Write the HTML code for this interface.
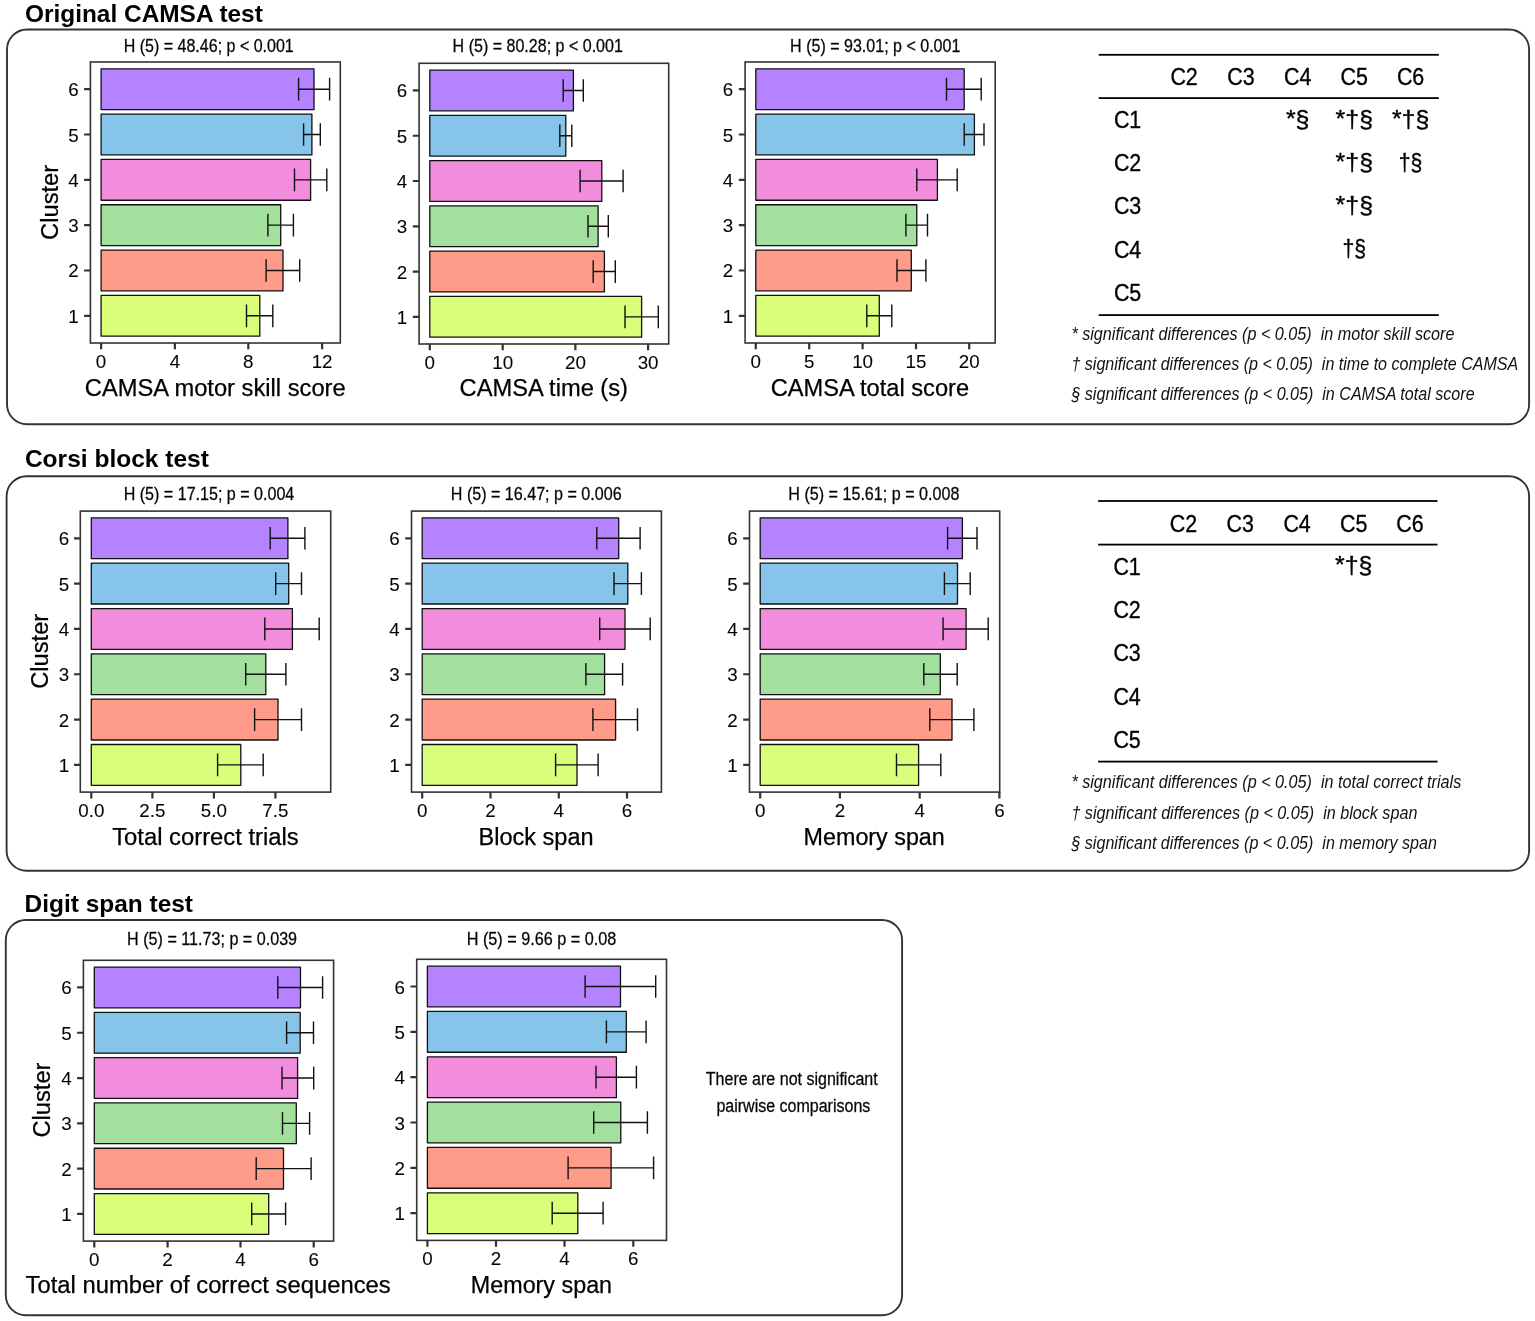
<!DOCTYPE html>
<html lang="en">
<head>
<meta charset="utf-8">
<title>Cluster comparisons: CAMSA, Corsi block and Digit span tests</title>
<style>
html,body{margin:0;padding:0;background:#fff;}
body{width:1535px;height:1321px;overflow:hidden;}
svg{display:block;}
text{font-family:"Liberation Sans",Arial,Helvetica,sans-serif;fill:#000;stroke-linejoin:round;}
text.h{stroke:#1a1a1a;stroke-width:0.3px;}
text.a{stroke:#4D4D4D;stroke-width:0.12px;}
text.x{stroke:#000;stroke-width:0.25px;}
text.b{font-weight:bold;}
text.i{font-style:italic;fill:#111;}
text.t{font-family:"Liberation Sans","DejaVu Sans",sans-serif;stroke:#000;stroke-width:0.35px;}
</style>
</head>
<body>
<svg width="1535" height="1321" viewBox="0 0 1535 1321">
<rect width="1535" height="1321" fill="#fff"/>
<text x="25" y="22.2" font-size="24.3" class="b" textLength="237.8" lengthAdjust="spacingAndGlyphs">Original CAMSA test</text>
<rect x="7" y="29.5" width="1522.1" height="394.7" rx="20" ry="20" fill="none" stroke="#333" stroke-width="1.9"/>
<g>
<rect x="101.1" y="295.41" width="158.7" height="40.79" fill="#D9FF7A" stroke="#111" stroke-width="1.3" stroke-linejoin="round"/>
<rect x="101.1" y="250.09" width="181.9" height="40.79" fill="#FF9B89" stroke="#111" stroke-width="1.3" stroke-linejoin="round"/>
<rect x="101.1" y="204.77" width="179.6" height="40.79" fill="#A3E09E" stroke="#111" stroke-width="1.3" stroke-linejoin="round"/>
<rect x="101.1" y="159.44" width="209.5" height="40.79" fill="#F28DDD" stroke="#111" stroke-width="1.3" stroke-linejoin="round"/>
<rect x="101.1" y="114.12" width="210.8" height="40.79" fill="#86C4E9" stroke="#111" stroke-width="1.3" stroke-linejoin="round"/>
<rect x="101.1" y="68.8" width="212.9" height="40.79" fill="#B583FF" stroke="#111" stroke-width="1.3" stroke-linejoin="round"/>
<path d="M246.5 304.48V327.14M272.8 304.48V327.14M246.5 315.81H272.8" fill="none" stroke="#111" stroke-width="1.4"/>
<path d="M266.1 259.15V281.81M299.7 259.15V281.81M266.1 270.48H299.7" fill="none" stroke="#111" stroke-width="1.4"/>
<path d="M267.9 213.83V236.49M293.4 213.83V236.49M267.9 225.16H293.4" fill="none" stroke="#111" stroke-width="1.4"/>
<path d="M294.5 168.51V191.17M326.8 168.51V191.17M294.5 179.84H326.8" fill="none" stroke="#111" stroke-width="1.4"/>
<path d="M303.6 123.19V145.85M320.3 123.19V145.85M303.6 134.52H320.3" fill="none" stroke="#111" stroke-width="1.4"/>
<path d="M298.6 77.86V100.52M329.6 77.86V100.52M298.6 89.19H329.6" fill="none" stroke="#111" stroke-width="1.4"/>
<rect x="90.4" y="62" width="249.9" height="281" fill="none" stroke="#333333" stroke-width="1.6"/>
<path d="M84.1 315.81H90.4M84.1 270.48H90.4M84.1 225.16H90.4M84.1 179.84H90.4M84.1 134.52H90.4M84.1 89.19H90.4M101.1 343V349.3M174.9 343V349.3M248.3 343V349.3M322.1 343V349.3" fill="none" stroke="#333333" stroke-width="2.2"/>
<text x="78.6" y="322.81" font-size="18.8" class="a" text-anchor="end" fill="#4D4D4D">1</text>
<text x="78.6" y="277.48" font-size="18.8" class="a" text-anchor="end" fill="#4D4D4D">2</text>
<text x="78.6" y="232.16" font-size="18.8" class="a" text-anchor="end" fill="#4D4D4D">3</text>
<text x="78.6" y="186.84" font-size="18.8" class="a" text-anchor="end" fill="#4D4D4D">4</text>
<text x="78.6" y="141.52" font-size="18.8" class="a" text-anchor="end" fill="#4D4D4D">5</text>
<text x="78.6" y="96.19" font-size="18.8" class="a" text-anchor="end" fill="#4D4D4D">6</text>
<text x="101.1" y="367.7" font-size="18.8" class="a" text-anchor="middle" fill="#4D4D4D">0</text>
<text x="174.9" y="367.7" font-size="18.8" class="a" text-anchor="middle" fill="#4D4D4D">4</text>
<text x="248.3" y="367.7" font-size="18.8" class="a" text-anchor="middle" fill="#4D4D4D">8</text>
<text x="322.1" y="367.7" font-size="18.8" class="a" text-anchor="middle" fill="#4D4D4D">12</text>
<text x="84.8" y="395.7" font-size="23.5" class="x" textLength="260.9" lengthAdjust="spacingAndGlyphs">CAMSA motor skill score</text>
<text x="123.7" y="52.2" font-size="18" class="h" textLength="170.1" lengthAdjust="spacingAndGlyphs" fill="#1a1a1a">H (5) = 48.46; p &lt; 0.001</text>
<text class="x" transform="translate(57.5 202.4) rotate(-90)" x="0" y="0" font-size="23.5" text-anchor="middle" textLength="75" lengthAdjust="spacingAndGlyphs">Cluster</text>
</g>
<g>
<rect x="429.8" y="296.46" width="211.8" height="40.75" fill="#D9FF7A" stroke="#111" stroke-width="1.3" stroke-linejoin="round"/>
<rect x="429.8" y="251.19" width="174.6" height="40.75" fill="#FF9B89" stroke="#111" stroke-width="1.3" stroke-linejoin="round"/>
<rect x="429.8" y="205.91" width="168.3" height="40.75" fill="#A3E09E" stroke="#111" stroke-width="1.3" stroke-linejoin="round"/>
<rect x="429.8" y="160.64" width="172" height="40.75" fill="#F28DDD" stroke="#111" stroke-width="1.3" stroke-linejoin="round"/>
<rect x="429.8" y="115.37" width="136" height="40.75" fill="#86C4E9" stroke="#111" stroke-width="1.3" stroke-linejoin="round"/>
<rect x="429.8" y="70.09" width="143.6" height="40.75" fill="#B583FF" stroke="#111" stroke-width="1.3" stroke-linejoin="round"/>
<path d="M625 305.52V328.15M658.3 305.52V328.15M625 316.84H658.3" fill="none" stroke="#111" stroke-width="1.4"/>
<path d="M593.2 260.24V282.88M615.3 260.24V282.88M593.2 271.56H615.3" fill="none" stroke="#111" stroke-width="1.4"/>
<path d="M588 214.97V237.61M608.3 214.97V237.61M588 226.29H608.3" fill="none" stroke="#111" stroke-width="1.4"/>
<path d="M580.1 169.69V192.33M623.1 169.69V192.33M580.1 181.01H623.1" fill="none" stroke="#111" stroke-width="1.4"/>
<path d="M559.8 124.42V147.06M571.8 124.42V147.06M559.8 135.74H571.8" fill="none" stroke="#111" stroke-width="1.4"/>
<path d="M563.2 79.15V101.78M583.3 79.15V101.78M563.2 90.46H583.3" fill="none" stroke="#111" stroke-width="1.4"/>
<rect x="419.1" y="63.3" width="249.6" height="280.7" fill="none" stroke="#333333" stroke-width="1.6"/>
<path d="M412.8 316.84H419.1M412.8 271.56H419.1M412.8 226.29H419.1M412.8 181.01H419.1M412.8 135.74H419.1M412.8 90.46H419.1M429.8 344V350.3M502.7 344V350.3M575.4 344V350.3M648.1 344V350.3" fill="none" stroke="#333333" stroke-width="2.2"/>
<text x="407.3" y="323.84" font-size="18.8" class="a" text-anchor="end" fill="#4D4D4D">1</text>
<text x="407.3" y="278.56" font-size="18.8" class="a" text-anchor="end" fill="#4D4D4D">2</text>
<text x="407.3" y="233.29" font-size="18.8" class="a" text-anchor="end" fill="#4D4D4D">3</text>
<text x="407.3" y="188.01" font-size="18.8" class="a" text-anchor="end" fill="#4D4D4D">4</text>
<text x="407.3" y="142.74" font-size="18.8" class="a" text-anchor="end" fill="#4D4D4D">5</text>
<text x="407.3" y="97.46" font-size="18.8" class="a" text-anchor="end" fill="#4D4D4D">6</text>
<text x="429.8" y="368.7" font-size="18.8" class="a" text-anchor="middle" fill="#4D4D4D">0</text>
<text x="502.7" y="368.7" font-size="18.8" class="a" text-anchor="middle" fill="#4D4D4D">10</text>
<text x="575.4" y="368.7" font-size="18.8" class="a" text-anchor="middle" fill="#4D4D4D">20</text>
<text x="648.1" y="368.7" font-size="18.8" class="a" text-anchor="middle" fill="#4D4D4D">30</text>
<text x="459.6" y="396.4" font-size="23.5" class="x" textLength="168.4" lengthAdjust="spacingAndGlyphs">CAMSA time (s)</text>
<text x="452.6" y="52.2" font-size="18" class="h" textLength="170.3" lengthAdjust="spacingAndGlyphs" fill="#1a1a1a">H (5) = 80.28; p &lt; 0.001</text>
</g>
<g>
<rect x="755.8" y="295.41" width="123.5" height="40.79" fill="#D9FF7A" stroke="#111" stroke-width="1.3" stroke-linejoin="round"/>
<rect x="755.8" y="250.09" width="155.5" height="40.79" fill="#FF9B89" stroke="#111" stroke-width="1.3" stroke-linejoin="round"/>
<rect x="755.8" y="204.77" width="161" height="40.79" fill="#A3E09E" stroke="#111" stroke-width="1.3" stroke-linejoin="round"/>
<rect x="755.8" y="159.44" width="181.6" height="40.79" fill="#F28DDD" stroke="#111" stroke-width="1.3" stroke-linejoin="round"/>
<rect x="755.8" y="114.12" width="218.6" height="40.79" fill="#86C4E9" stroke="#111" stroke-width="1.3" stroke-linejoin="round"/>
<rect x="755.8" y="68.8" width="208.4" height="40.79" fill="#B583FF" stroke="#111" stroke-width="1.3" stroke-linejoin="round"/>
<path d="M866.8 304.48V327.14M891.8 304.48V327.14M866.8 315.81H891.8" fill="none" stroke="#111" stroke-width="1.4"/>
<path d="M897 259.15V281.81M925.9 259.15V281.81M897 270.48H925.9" fill="none" stroke="#111" stroke-width="1.4"/>
<path d="M905.9 213.83V236.49M927.5 213.83V236.49M905.9 225.16H927.5" fill="none" stroke="#111" stroke-width="1.4"/>
<path d="M916.8 168.51V191.17M957.2 168.51V191.17M916.8 179.84H957.2" fill="none" stroke="#111" stroke-width="1.4"/>
<path d="M964.2 123.19V145.85M984 123.19V145.85M964.2 134.52H984" fill="none" stroke="#111" stroke-width="1.4"/>
<path d="M946.5 77.86V100.52M981.2 77.86V100.52M946.5 89.19H981.2" fill="none" stroke="#111" stroke-width="1.4"/>
<rect x="745.1" y="62" width="250.1" height="281" fill="none" stroke="#333333" stroke-width="1.6"/>
<path d="M738.8 315.81H745.1M738.8 270.48H745.1M738.8 225.16H745.1M738.8 179.84H745.1M738.8 134.52H745.1M738.8 89.19H745.1M755.8 343V349.3M809.2 343V349.3M862.6 343V349.3M916 343V349.3M969.2 343V349.3" fill="none" stroke="#333333" stroke-width="2.2"/>
<text x="733.3" y="322.81" font-size="18.8" class="a" text-anchor="end" fill="#4D4D4D">1</text>
<text x="733.3" y="277.48" font-size="18.8" class="a" text-anchor="end" fill="#4D4D4D">2</text>
<text x="733.3" y="232.16" font-size="18.8" class="a" text-anchor="end" fill="#4D4D4D">3</text>
<text x="733.3" y="186.84" font-size="18.8" class="a" text-anchor="end" fill="#4D4D4D">4</text>
<text x="733.3" y="141.52" font-size="18.8" class="a" text-anchor="end" fill="#4D4D4D">5</text>
<text x="733.3" y="96.19" font-size="18.8" class="a" text-anchor="end" fill="#4D4D4D">6</text>
<text x="755.8" y="367.7" font-size="18.8" class="a" text-anchor="middle" fill="#4D4D4D">0</text>
<text x="809.2" y="367.7" font-size="18.8" class="a" text-anchor="middle" fill="#4D4D4D">5</text>
<text x="862.6" y="367.7" font-size="18.8" class="a" text-anchor="middle" fill="#4D4D4D">10</text>
<text x="916" y="367.7" font-size="18.8" class="a" text-anchor="middle" fill="#4D4D4D">15</text>
<text x="969.2" y="367.7" font-size="18.8" class="a" text-anchor="middle" fill="#4D4D4D">20</text>
<text x="770.7" y="395.7" font-size="23.5" class="x" textLength="198.4" lengthAdjust="spacingAndGlyphs">CAMSA total score</text>
<text x="790.1" y="52.2" font-size="18" class="h" textLength="170.3" lengthAdjust="spacingAndGlyphs" fill="#1a1a1a">H (5) = 93.01; p &lt; 0.001</text>
</g>
<rect x="1098.7" y="53.9" width="340.1" height="1.8" fill="#000"/>
<rect x="1098.7" y="97.2" width="340.1" height="1.8" fill="#000"/>
<rect x="1098.7" y="314.2" width="340.1" height="1.8" fill="#000"/>
<text x="1170.4" y="85.1" font-size="24" class="t" textLength="27.4" lengthAdjust="spacingAndGlyphs">C2</text>
<text x="1227.2" y="85.1" font-size="24" class="t" textLength="27.4" lengthAdjust="spacingAndGlyphs">C3</text>
<text x="1284" y="85.1" font-size="24" class="t" textLength="27.4" lengthAdjust="spacingAndGlyphs">C4</text>
<text x="1340.6" y="85.1" font-size="24" class="t" textLength="27.4" lengthAdjust="spacingAndGlyphs">C5</text>
<text x="1396.9" y="85.1" font-size="24" class="t" textLength="27.4" lengthAdjust="spacingAndGlyphs">C6</text>
<text x="1113.9" y="128.1" font-size="24" class="t" textLength="27.4" lengthAdjust="spacingAndGlyphs">C1</text>
<text x="1113.9" y="171.4" font-size="24" class="t" textLength="27.4" lengthAdjust="spacingAndGlyphs">C2</text>
<text x="1113.9" y="214.4" font-size="24" class="t" textLength="27.4" lengthAdjust="spacingAndGlyphs">C3</text>
<text x="1113.9" y="257.8" font-size="24" class="t" textLength="27.4" lengthAdjust="spacingAndGlyphs">C4</text>
<text x="1113.9" y="301.4" font-size="24" class="t" textLength="27.4" lengthAdjust="spacingAndGlyphs">C5</text>
<text x="1285.9" y="126.5" font-size="24" class="t" textLength="23.6" lengthAdjust="spacingAndGlyphs">*§</text>
<text x="1335.6" y="126.5" font-size="24" class="t" textLength="37.4" lengthAdjust="spacingAndGlyphs">*†§</text>
<text x="1391.9" y="126.5" font-size="24" class="t" textLength="37.4" lengthAdjust="spacingAndGlyphs">*†§</text>
<text x="1335.6" y="169.8" font-size="24" class="t" textLength="37.4" lengthAdjust="spacingAndGlyphs">*†§</text>
<text x="1398.8" y="169.8" font-size="24" class="t" textLength="23.6" lengthAdjust="spacingAndGlyphs">†§</text>
<text x="1335.6" y="212.8" font-size="24" class="t" textLength="37.4" lengthAdjust="spacingAndGlyphs">*†§</text>
<text x="1342.5" y="256.2" font-size="24" class="t" textLength="23.6" lengthAdjust="spacingAndGlyphs">†§</text>
<text x="1071.4" y="340.1" font-size="17.5" class="i" textLength="383.1" lengthAdjust="spacingAndGlyphs" style="white-space:pre">* significant differences (p &lt; 0.05)  in motor skill score</text>
<text x="1071.4" y="370.1" font-size="17.5" class="i" textLength="446.9" lengthAdjust="spacingAndGlyphs" style="white-space:pre">† significant differences (p &lt; 0.05)  in time to complete CAMSA</text>
<text x="1071.4" y="400.1" font-size="17.5" class="i" textLength="403.2" lengthAdjust="spacingAndGlyphs" style="white-space:pre">§ significant differences (p &lt; 0.05)  in CAMSA total score</text>
<text x="24.9" y="466.9" font-size="24.3" class="b" textLength="184" lengthAdjust="spacingAndGlyphs">Corsi block test</text>
<rect x="6.6" y="476.2" width="1522.5" height="394.5" rx="20" ry="20" fill="none" stroke="#333" stroke-width="1.9"/>
<g>
<rect x="91.3" y="744.51" width="149.5" height="40.79" fill="#D9FF7A" stroke="#111" stroke-width="1.3" stroke-linejoin="round"/>
<rect x="91.3" y="699.19" width="186.7" height="40.79" fill="#FF9B89" stroke="#111" stroke-width="1.3" stroke-linejoin="round"/>
<rect x="91.3" y="653.87" width="174.5" height="40.79" fill="#A3E09E" stroke="#111" stroke-width="1.3" stroke-linejoin="round"/>
<rect x="91.3" y="608.54" width="201.1" height="40.79" fill="#F28DDD" stroke="#111" stroke-width="1.3" stroke-linejoin="round"/>
<rect x="91.3" y="563.22" width="197.4" height="40.79" fill="#86C4E9" stroke="#111" stroke-width="1.3" stroke-linejoin="round"/>
<rect x="91.3" y="517.9" width="196.6" height="40.79" fill="#B583FF" stroke="#111" stroke-width="1.3" stroke-linejoin="round"/>
<path d="M217.6 753.58V776.24M263.2 753.58V776.24M217.6 764.91H263.2" fill="none" stroke="#111" stroke-width="1.4"/>
<path d="M254.6 708.25V730.91M301.5 708.25V730.91M254.6 719.58H301.5" fill="none" stroke="#111" stroke-width="1.4"/>
<path d="M245.7 662.93V685.59M285.9 662.93V685.59M245.7 674.26H285.9" fill="none" stroke="#111" stroke-width="1.4"/>
<path d="M264.8 617.61V640.27M319.2 617.61V640.27M264.8 628.94H319.2" fill="none" stroke="#111" stroke-width="1.4"/>
<path d="M275.7 572.29V594.95M301.5 572.29V594.95M275.7 583.62H301.5" fill="none" stroke="#111" stroke-width="1.4"/>
<path d="M270.2 526.96V549.62M304.9 526.96V549.62M270.2 538.29H304.9" fill="none" stroke="#111" stroke-width="1.4"/>
<rect x="80.3" y="511.1" width="250.4" height="281" fill="none" stroke="#333333" stroke-width="1.6"/>
<path d="M74 764.91H80.3M74 719.58H80.3M74 674.26H80.3M74 628.94H80.3M74 583.62H80.3M74 538.29H80.3M91.3 792.1V798.4M152.4 792.1V798.4M213.9 792.1V798.4M275.4 792.1V798.4" fill="none" stroke="#333333" stroke-width="2.2"/>
<text x="69.2" y="771.91" font-size="18.8" class="a" text-anchor="end" fill="#4D4D4D">1</text>
<text x="69.2" y="726.58" font-size="18.8" class="a" text-anchor="end" fill="#4D4D4D">2</text>
<text x="69.2" y="681.26" font-size="18.8" class="a" text-anchor="end" fill="#4D4D4D">3</text>
<text x="69.2" y="635.94" font-size="18.8" class="a" text-anchor="end" fill="#4D4D4D">4</text>
<text x="69.2" y="590.62" font-size="18.8" class="a" text-anchor="end" fill="#4D4D4D">5</text>
<text x="69.2" y="545.29" font-size="18.8" class="a" text-anchor="end" fill="#4D4D4D">6</text>
<text x="91.3" y="816.8" font-size="18.8" class="a" text-anchor="middle" fill="#4D4D4D">0.0</text>
<text x="152.4" y="816.8" font-size="18.8" class="a" text-anchor="middle" fill="#4D4D4D">2.5</text>
<text x="213.9" y="816.8" font-size="18.8" class="a" text-anchor="middle" fill="#4D4D4D">5.0</text>
<text x="275.4" y="816.8" font-size="18.8" class="a" text-anchor="middle" fill="#4D4D4D">7.5</text>
<text x="112.2" y="844.8" font-size="23.5" class="x" textLength="186.6" lengthAdjust="spacingAndGlyphs">Total correct trials</text>
<text x="123.7" y="499.6" font-size="18" class="h" textLength="170.6" lengthAdjust="spacingAndGlyphs" fill="#1a1a1a">H (5) = 17.15; p = 0.004</text>
<text class="x" transform="translate(48.3 651.3) rotate(-90)" x="0" y="0" font-size="23.5" text-anchor="middle" textLength="75" lengthAdjust="spacingAndGlyphs">Cluster</text>
</g>
<g>
<rect x="422.2" y="744.51" width="154.8" height="40.79" fill="#D9FF7A" stroke="#111" stroke-width="1.3" stroke-linejoin="round"/>
<rect x="422.2" y="699.19" width="193.4" height="40.79" fill="#FF9B89" stroke="#111" stroke-width="1.3" stroke-linejoin="round"/>
<rect x="422.2" y="653.87" width="182.4" height="40.79" fill="#A3E09E" stroke="#111" stroke-width="1.3" stroke-linejoin="round"/>
<rect x="422.2" y="608.54" width="202.8" height="40.79" fill="#F28DDD" stroke="#111" stroke-width="1.3" stroke-linejoin="round"/>
<rect x="422.2" y="563.22" width="205.6" height="40.79" fill="#86C4E9" stroke="#111" stroke-width="1.3" stroke-linejoin="round"/>
<rect x="422.2" y="517.9" width="196.5" height="40.79" fill="#B583FF" stroke="#111" stroke-width="1.3" stroke-linejoin="round"/>
<path d="M555.6 753.58V776.24M598.1 753.58V776.24M555.6 764.91H598.1" fill="none" stroke="#111" stroke-width="1.4"/>
<path d="M592.9 708.25V730.91M637.5 708.25V730.91M592.9 719.58H637.5" fill="none" stroke="#111" stroke-width="1.4"/>
<path d="M585.9 662.93V685.59M622.6 662.93V685.59M585.9 674.26H622.6" fill="none" stroke="#111" stroke-width="1.4"/>
<path d="M599.7 617.61V640.27M650.2 617.61V640.27M599.7 628.94H650.2" fill="none" stroke="#111" stroke-width="1.4"/>
<path d="M614 572.29V594.95M641.4 572.29V594.95M614 583.62H641.4" fill="none" stroke="#111" stroke-width="1.4"/>
<path d="M596.8 526.96V549.62M640.1 526.96V549.62M596.8 538.29H640.1" fill="none" stroke="#111" stroke-width="1.4"/>
<rect x="411.5" y="511.1" width="249.9" height="281" fill="none" stroke="#333333" stroke-width="1.6"/>
<path d="M405.2 764.91H411.5M405.2 719.58H411.5M405.2 674.26H411.5M405.2 628.94H411.5M405.2 583.62H411.5M405.2 538.29H411.5M422.2 792.1V798.4M490.5 792.1V798.4M558.8 792.1V798.4M627 792.1V798.4" fill="none" stroke="#333333" stroke-width="2.2"/>
<text x="399.7" y="771.91" font-size="18.8" class="a" text-anchor="end" fill="#4D4D4D">1</text>
<text x="399.7" y="726.58" font-size="18.8" class="a" text-anchor="end" fill="#4D4D4D">2</text>
<text x="399.7" y="681.26" font-size="18.8" class="a" text-anchor="end" fill="#4D4D4D">3</text>
<text x="399.7" y="635.94" font-size="18.8" class="a" text-anchor="end" fill="#4D4D4D">4</text>
<text x="399.7" y="590.62" font-size="18.8" class="a" text-anchor="end" fill="#4D4D4D">5</text>
<text x="399.7" y="545.29" font-size="18.8" class="a" text-anchor="end" fill="#4D4D4D">6</text>
<text x="422.2" y="816.8" font-size="18.8" class="a" text-anchor="middle" fill="#4D4D4D">0</text>
<text x="490.5" y="816.8" font-size="18.8" class="a" text-anchor="middle" fill="#4D4D4D">2</text>
<text x="558.8" y="816.8" font-size="18.8" class="a" text-anchor="middle" fill="#4D4D4D">4</text>
<text x="627" y="816.8" font-size="18.8" class="a" text-anchor="middle" fill="#4D4D4D">6</text>
<text x="478.6" y="844.8" font-size="23.5" class="x" textLength="115" lengthAdjust="spacingAndGlyphs">Block span</text>
<text x="450.8" y="499.6" font-size="18" class="h" textLength="170.8" lengthAdjust="spacingAndGlyphs" fill="#1a1a1a">H (5) = 16.47; p = 0.006</text>
</g>
<g>
<rect x="760.2" y="744.51" width="158.4" height="40.79" fill="#D9FF7A" stroke="#111" stroke-width="1.3" stroke-linejoin="round"/>
<rect x="760.2" y="699.19" width="191.8" height="40.79" fill="#FF9B89" stroke="#111" stroke-width="1.3" stroke-linejoin="round"/>
<rect x="760.2" y="653.87" width="180.1" height="40.79" fill="#A3E09E" stroke="#111" stroke-width="1.3" stroke-linejoin="round"/>
<rect x="760.2" y="608.54" width="205.9" height="40.79" fill="#F28DDD" stroke="#111" stroke-width="1.3" stroke-linejoin="round"/>
<rect x="760.2" y="563.22" width="197.3" height="40.79" fill="#86C4E9" stroke="#111" stroke-width="1.3" stroke-linejoin="round"/>
<rect x="760.2" y="517.9" width="202.2" height="40.79" fill="#B583FF" stroke="#111" stroke-width="1.3" stroke-linejoin="round"/>
<path d="M896.5 753.58V776.24M940.8 753.58V776.24M896.5 764.91H940.8" fill="none" stroke="#111" stroke-width="1.4"/>
<path d="M929.8 708.25V730.91M973.9 708.25V730.91M929.8 719.58H973.9" fill="none" stroke="#111" stroke-width="1.4"/>
<path d="M923.8 662.93V685.59M957.2 662.93V685.59M923.8 674.26H957.2" fill="none" stroke="#111" stroke-width="1.4"/>
<path d="M943.1 617.61V640.27M988.2 617.61V640.27M943.1 628.94H988.2" fill="none" stroke="#111" stroke-width="1.4"/>
<path d="M944.4 572.29V594.95M970.2 572.29V594.95M944.4 583.62H970.2" fill="none" stroke="#111" stroke-width="1.4"/>
<path d="M947.6 526.96V549.62M977 526.96V549.62M947.6 538.29H977" fill="none" stroke="#111" stroke-width="1.4"/>
<rect x="749.5" y="511.1" width="250.2" height="281" fill="none" stroke="#333333" stroke-width="1.6"/>
<path d="M743.2 764.91H749.5M743.2 719.58H749.5M743.2 674.26H749.5M743.2 628.94H749.5M743.2 583.62H749.5M743.2 538.29H749.5M760.2 792.1V798.4M839.9 792.1V798.4M919.7 792.1V798.4M999.4 792.1V798.4" fill="none" stroke="#333333" stroke-width="2.2"/>
<text x="737.7" y="771.91" font-size="18.8" class="a" text-anchor="end" fill="#4D4D4D">1</text>
<text x="737.7" y="726.58" font-size="18.8" class="a" text-anchor="end" fill="#4D4D4D">2</text>
<text x="737.7" y="681.26" font-size="18.8" class="a" text-anchor="end" fill="#4D4D4D">3</text>
<text x="737.7" y="635.94" font-size="18.8" class="a" text-anchor="end" fill="#4D4D4D">4</text>
<text x="737.7" y="590.62" font-size="18.8" class="a" text-anchor="end" fill="#4D4D4D">5</text>
<text x="737.7" y="545.29" font-size="18.8" class="a" text-anchor="end" fill="#4D4D4D">6</text>
<text x="760.2" y="816.8" font-size="18.8" class="a" text-anchor="middle" fill="#4D4D4D">0</text>
<text x="839.9" y="816.8" font-size="18.8" class="a" text-anchor="middle" fill="#4D4D4D">2</text>
<text x="919.7" y="816.8" font-size="18.8" class="a" text-anchor="middle" fill="#4D4D4D">4</text>
<text x="999.4" y="816.8" font-size="18.8" class="a" text-anchor="middle" fill="#4D4D4D">6</text>
<text x="803.6" y="844.8" font-size="23.5" class="x" textLength="141.2" lengthAdjust="spacingAndGlyphs">Memory span</text>
<text x="788.3" y="499.6" font-size="18" class="h" textLength="171.1" lengthAdjust="spacingAndGlyphs" fill="#1a1a1a">H (5) = 15.61; p = 0.008</text>
</g>
<rect x="1098.1" y="500.1" width="339.4" height="1.8" fill="#000"/>
<rect x="1098.1" y="543.7" width="339.4" height="1.8" fill="#000"/>
<rect x="1098.1" y="760.7" width="339.4" height="1.8" fill="#000"/>
<text x="1169.8" y="531.6" font-size="24" class="t" textLength="27.4" lengthAdjust="spacingAndGlyphs">C2</text>
<text x="1226.6" y="531.6" font-size="24" class="t" textLength="27.4" lengthAdjust="spacingAndGlyphs">C3</text>
<text x="1283.4" y="531.6" font-size="24" class="t" textLength="27.4" lengthAdjust="spacingAndGlyphs">C4</text>
<text x="1340" y="531.6" font-size="24" class="t" textLength="27.4" lengthAdjust="spacingAndGlyphs">C5</text>
<text x="1396.3" y="531.6" font-size="24" class="t" textLength="27.4" lengthAdjust="spacingAndGlyphs">C6</text>
<text x="1113.4" y="574.6" font-size="24" class="t" textLength="27.4" lengthAdjust="spacingAndGlyphs">C1</text>
<text x="1113.4" y="617.9" font-size="24" class="t" textLength="27.4" lengthAdjust="spacingAndGlyphs">C2</text>
<text x="1113.4" y="661.3" font-size="24" class="t" textLength="27.4" lengthAdjust="spacingAndGlyphs">C3</text>
<text x="1113.4" y="704.9" font-size="24" class="t" textLength="27.4" lengthAdjust="spacingAndGlyphs">C4</text>
<text x="1113.4" y="748.2" font-size="24" class="t" textLength="27.4" lengthAdjust="spacingAndGlyphs">C5</text>
<text x="1335" y="573" font-size="24" class="t" textLength="37.4" lengthAdjust="spacingAndGlyphs">*†§</text>
<text x="1071.4" y="788.4" font-size="17.5" class="i" textLength="389.9" lengthAdjust="spacingAndGlyphs" style="white-space:pre">* significant differences (p &lt; 0.05)  in total correct trials</text>
<text x="1071.4" y="818.7" font-size="17.5" class="i" textLength="346" lengthAdjust="spacingAndGlyphs" style="white-space:pre">† significant differences (p &lt; 0.05)  in block span</text>
<text x="1071.4" y="848.7" font-size="17.5" class="i" textLength="365.5" lengthAdjust="spacingAndGlyphs" style="white-space:pre">§ significant differences (p &lt; 0.05)  in memory span</text>
<text x="24.5" y="911.8" font-size="24.3" class="b" textLength="168.5" lengthAdjust="spacingAndGlyphs">Digit span test</text>
<rect x="5.8" y="920" width="896.3" height="395.2" rx="20" ry="20" fill="none" stroke="#333" stroke-width="1.9"/>
<g>
<rect x="94.3" y="1193.55" width="174.4" height="40.76" fill="#D9FF7A" stroke="#111" stroke-width="1.3" stroke-linejoin="round"/>
<rect x="94.3" y="1148.25" width="189.2" height="40.76" fill="#FF9B89" stroke="#111" stroke-width="1.3" stroke-linejoin="round"/>
<rect x="94.3" y="1102.96" width="202" height="40.76" fill="#A3E09E" stroke="#111" stroke-width="1.3" stroke-linejoin="round"/>
<rect x="94.3" y="1057.67" width="203.3" height="40.76" fill="#F28DDD" stroke="#111" stroke-width="1.3" stroke-linejoin="round"/>
<rect x="94.3" y="1012.38" width="205.9" height="40.76" fill="#86C4E9" stroke="#111" stroke-width="1.3" stroke-linejoin="round"/>
<rect x="94.3" y="967.09" width="206.2" height="40.76" fill="#B583FF" stroke="#111" stroke-width="1.3" stroke-linejoin="round"/>
<path d="M251.7 1202.6V1225.25M285.6 1202.6V1225.25M251.7 1213.93H285.6" fill="none" stroke="#111" stroke-width="1.4"/>
<path d="M256.2 1157.31V1179.96M311.1 1157.31V1179.96M256.2 1168.64H311.1" fill="none" stroke="#111" stroke-width="1.4"/>
<path d="M282.5 1112.02V1134.67M309.6 1112.02V1134.67M282.5 1123.35H309.6" fill="none" stroke="#111" stroke-width="1.4"/>
<path d="M282 1066.73V1089.38M313.7 1066.73V1089.38M282 1078.05H313.7" fill="none" stroke="#111" stroke-width="1.4"/>
<path d="M286.6 1021.44V1044.09M313.5 1021.44V1044.09M286.6 1032.76H313.5" fill="none" stroke="#111" stroke-width="1.4"/>
<path d="M277.8 976.15V998.8M322.6 976.15V998.8M277.8 987.47H322.6" fill="none" stroke="#111" stroke-width="1.4"/>
<rect x="83.4" y="960.3" width="250.2" height="280.8" fill="none" stroke="#333333" stroke-width="1.6"/>
<path d="M77.1 1213.93H83.4M77.1 1168.64H83.4M77.1 1123.35H83.4M77.1 1078.05H83.4M77.1 1032.76H83.4M77.1 987.47H83.4M94.3 1241.1V1247.4M167.6 1241.1V1247.4M240.5 1241.1V1247.4M313.7 1241.1V1247.4" fill="none" stroke="#333333" stroke-width="2.2"/>
<text x="71.6" y="1220.93" font-size="18.8" class="a" text-anchor="end" fill="#4D4D4D">1</text>
<text x="71.6" y="1175.64" font-size="18.8" class="a" text-anchor="end" fill="#4D4D4D">2</text>
<text x="71.6" y="1130.35" font-size="18.8" class="a" text-anchor="end" fill="#4D4D4D">3</text>
<text x="71.6" y="1085.05" font-size="18.8" class="a" text-anchor="end" fill="#4D4D4D">4</text>
<text x="71.6" y="1039.76" font-size="18.8" class="a" text-anchor="end" fill="#4D4D4D">5</text>
<text x="71.6" y="994.47" font-size="18.8" class="a" text-anchor="end" fill="#4D4D4D">6</text>
<text x="94.3" y="1265.8" font-size="18.8" class="a" text-anchor="middle" fill="#4D4D4D">0</text>
<text x="167.6" y="1265.8" font-size="18.8" class="a" text-anchor="middle" fill="#4D4D4D">2</text>
<text x="240.5" y="1265.8" font-size="18.8" class="a" text-anchor="middle" fill="#4D4D4D">4</text>
<text x="313.7" y="1265.8" font-size="18.8" class="a" text-anchor="middle" fill="#4D4D4D">6</text>
<text x="25.6" y="1293.4" font-size="23.5" class="x" textLength="365.1" lengthAdjust="spacingAndGlyphs">Total number of correct sequences</text>
<text x="127.1" y="944.5" font-size="18" class="h" textLength="170" lengthAdjust="spacingAndGlyphs" fill="#1a1a1a">H (5) = 11.73; p = 0.039</text>
<text class="x" transform="translate(50 1100) rotate(-90)" x="0" y="0" font-size="23.5" text-anchor="middle" textLength="75" lengthAdjust="spacingAndGlyphs">Cluster</text>
</g>
<g>
<rect x="427.4" y="1192.79" width="150.4" height="40.8" fill="#D9FF7A" stroke="#111" stroke-width="1.3" stroke-linejoin="round"/>
<rect x="427.4" y="1147.46" width="183.7" height="40.8" fill="#FF9B89" stroke="#111" stroke-width="1.3" stroke-linejoin="round"/>
<rect x="427.4" y="1102.12" width="193.4" height="40.8" fill="#A3E09E" stroke="#111" stroke-width="1.3" stroke-linejoin="round"/>
<rect x="427.4" y="1056.78" width="189" height="40.8" fill="#F28DDD" stroke="#111" stroke-width="1.3" stroke-linejoin="round"/>
<rect x="427.4" y="1011.44" width="198.9" height="40.8" fill="#86C4E9" stroke="#111" stroke-width="1.3" stroke-linejoin="round"/>
<rect x="427.4" y="966.1" width="193.1" height="40.8" fill="#B583FF" stroke="#111" stroke-width="1.3" stroke-linejoin="round"/>
<path d="M552.2 1201.86V1224.53M603.1 1201.86V1224.53M552.2 1213.2H603.1" fill="none" stroke="#111" stroke-width="1.4"/>
<path d="M568.1 1156.52V1179.19M653.6 1156.52V1179.19M568.1 1167.86H653.6" fill="none" stroke="#111" stroke-width="1.4"/>
<path d="M593.7 1111.18V1133.85M647.4 1111.18V1133.85M593.7 1122.52H647.4" fill="none" stroke="#111" stroke-width="1.4"/>
<path d="M596 1065.85V1088.52M636.4 1065.85V1088.52M596 1077.18H636.4" fill="none" stroke="#111" stroke-width="1.4"/>
<path d="M606.4 1020.51V1043.18M646.1 1020.51V1043.18M606.4 1031.84H646.1" fill="none" stroke="#111" stroke-width="1.4"/>
<path d="M585.1 975.17V997.84M655.7 975.17V997.84M585.1 986.5H655.7" fill="none" stroke="#111" stroke-width="1.4"/>
<rect x="416.7" y="959.3" width="249.8" height="281.1" fill="none" stroke="#333333" stroke-width="1.6"/>
<path d="M410.4 1213.2H416.7M410.4 1167.86H416.7M410.4 1122.52H416.7M410.4 1077.18H416.7M410.4 1031.84H416.7M410.4 986.5H416.7M427.4 1240.4V1246.7M496 1240.4V1246.7M564.5 1240.4V1246.7M633.3 1240.4V1246.7" fill="none" stroke="#333333" stroke-width="2.2"/>
<text x="404.9" y="1220.2" font-size="18.8" class="a" text-anchor="end" fill="#4D4D4D">1</text>
<text x="404.9" y="1174.86" font-size="18.8" class="a" text-anchor="end" fill="#4D4D4D">2</text>
<text x="404.9" y="1129.52" font-size="18.8" class="a" text-anchor="end" fill="#4D4D4D">3</text>
<text x="404.9" y="1084.18" font-size="18.8" class="a" text-anchor="end" fill="#4D4D4D">4</text>
<text x="404.9" y="1038.84" font-size="18.8" class="a" text-anchor="end" fill="#4D4D4D">5</text>
<text x="404.9" y="993.5" font-size="18.8" class="a" text-anchor="end" fill="#4D4D4D">6</text>
<text x="427.4" y="1265.1" font-size="18.8" class="a" text-anchor="middle" fill="#4D4D4D">0</text>
<text x="496" y="1265.1" font-size="18.8" class="a" text-anchor="middle" fill="#4D4D4D">2</text>
<text x="564.5" y="1265.1" font-size="18.8" class="a" text-anchor="middle" fill="#4D4D4D">4</text>
<text x="633.3" y="1265.1" font-size="18.8" class="a" text-anchor="middle" fill="#4D4D4D">6</text>
<text x="470.8" y="1292.9" font-size="23.5" class="x" textLength="141.3" lengthAdjust="spacingAndGlyphs">Memory span</text>
<text x="466.7" y="944.5" font-size="18" class="h" textLength="149.5" lengthAdjust="spacingAndGlyphs" fill="#1a1a1a">H (5) = 9.66 p = 0.08</text>
</g>
<text x="705.8" y="1085.3" font-size="18" class="h" textLength="171.9" lengthAdjust="spacingAndGlyphs" fill="#1a1a1a">There are not significant</text>
<text x="716.4" y="1112.3" font-size="18" class="h" textLength="153.9" lengthAdjust="spacingAndGlyphs" fill="#1a1a1a">pairwise comparisons</text>
</svg>
</body>
</html>
